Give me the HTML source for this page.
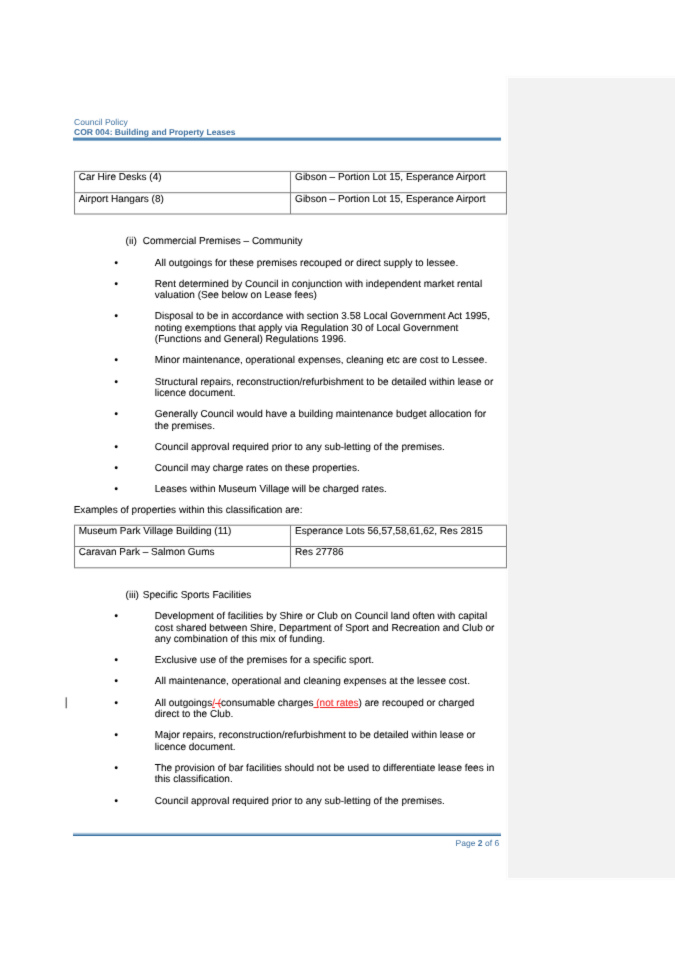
<!DOCTYPE html>
<html><head><meta charset="utf-8"><title>COR 004: Building and Property Leases</title>
<style>
html,body{margin:0;padding:0;background:#fff;}
body{width:675px;height:955px;position:relative;overflow:hidden;font-family:"Liberation Sans",Arial,sans-serif;color:#000;}
#pg{text-rendering:geometricPrecision;position:absolute;left:0;top:0;width:700px;height:955px;will-change:transform;filter:url(#soft);}
.l{position:absolute;white-space:nowrap;font-size:10.02px;line-height:12px;height:12px;-webkit-text-stroke:0.08px currentColor;}
.hd{position:absolute;white-space:nowrap;color:#3d6f9e;font-size:8.55px;line-height:10px;}
.del{color:#f01c1c;text-decoration:line-through;text-decoration-thickness:0.8px;}
.ins{color:#f01c1c;text-decoration:underline;text-decoration-thickness:0.8px;text-underline-offset:1px;}
svg{position:absolute;left:0;top:0;}
</style></head><body><svg width="0" height="0" style="position:absolute"><defs><filter id="soft" x="0" y="0" width="100%" height="100%" color-interpolation-filters="sRGB"><feConvolveMatrix order="3" kernelMatrix="0.015 0.07 0.015 0.07 0.66 0.07 0.015 0.07 0.015" divisor="1" edgeMode="duplicate" preserveAlpha="false"/></filter></defs></svg><div id="pg">

<svg width="700" height="955" viewBox="0 0 700 955">
<rect x="508" y="78" width="192" height="800" fill="#f2f2f2"/>
<rect x="506" y="76" width="194" height="1" fill="#fafafa"/>
<rect x="506" y="879" width="194" height="1" fill="#fafafa"/>
<rect x="506" y="76" width="1" height="804" fill="#fafafa"/>
<rect x="73" y="137" width="428" height="1" fill="#b3cbdf"/>
<rect x="73" y="138" width="428" height="2" fill="#4f86b3"/>
<rect x="73" y="140" width="428" height="1" fill="#8fb1cf"/>
<rect x="73" y="832.8" width="428" height="1.7" fill="#b0c9de"/>
<rect x="73" y="834.5" width="428" height="1.5" fill="#2f6a9c"/>
<rect x="65.7" y="697.3" width="1" height="11" fill="#333"/>
<line x1="74" y1="171.4" x2="507" y2="171.4" stroke="#787878" stroke-width="1"/>
<line x1="74" y1="192.7" x2="507" y2="192.7" stroke="#787878" stroke-width="1"/>
<line x1="74" y1="214.0" x2="507" y2="214.0" stroke="#787878" stroke-width="1"/>
<line x1="74.5" y1="171.4" x2="74.5" y2="214.0" stroke="#787878" stroke-width="1"/>
<line x1="290.5" y1="171.4" x2="290.5" y2="214.0" stroke="#787878" stroke-width="1"/>
<line x1="506.5" y1="171.4" x2="506.5" y2="214.0" stroke="#787878" stroke-width="1"/>
<circle cx="116.2" cy="262.7" r="1.45" fill="#000"/>
<circle cx="116.2" cy="283.7" r="1.45" fill="#000"/>
<circle cx="116.2" cy="315.7" r="1.45" fill="#000"/>
<circle cx="116.2" cy="359.7" r="1.45" fill="#000"/>
<circle cx="116.2" cy="381.7" r="1.45" fill="#000"/>
<circle cx="116.2" cy="413.7" r="1.45" fill="#000"/>
<circle cx="116.2" cy="446.7" r="1.45" fill="#000"/>
<circle cx="116.2" cy="467.7" r="1.45" fill="#000"/>
<circle cx="116.2" cy="488.7" r="1.45" fill="#000"/>
<line x1="74" y1="525.2" x2="507" y2="525.2" stroke="#787878" stroke-width="1"/>
<line x1="74" y1="546.5" x2="507" y2="546.5" stroke="#787878" stroke-width="1"/>
<line x1="74" y1="567.8" x2="507" y2="567.8" stroke="#787878" stroke-width="1"/>
<line x1="74.5" y1="525.2" x2="74.5" y2="567.8" stroke="#787878" stroke-width="1"/>
<line x1="290.5" y1="525.2" x2="290.5" y2="567.8" stroke="#787878" stroke-width="1"/>
<line x1="506.5" y1="525.2" x2="506.5" y2="567.8" stroke="#787878" stroke-width="1"/>
<circle cx="116.2" cy="615.7" r="1.45" fill="#000"/>
<circle cx="116.2" cy="659.7" r="1.45" fill="#000"/>
<circle cx="116.2" cy="680.7" r="1.45" fill="#000"/>
<circle cx="116.2" cy="702.7" r="1.45" fill="#000"/>
<circle cx="116.2" cy="734.7" r="1.45" fill="#000"/>
<circle cx="116.2" cy="767.7" r="1.45" fill="#000"/>
<circle cx="116.2" cy="800.7" r="1.45" fill="#000"/>
</svg>
<div class="hd" style="left:74px;top:117px;">Council Policy</div>
<div class="hd" style="left:74px;top:127px;font-weight:bold;">COR 004: Building and Property Leases</div>
<div class="l" style="left:78.7px;top:172.4px;">Car Hire Desks (4)</div>
<div class="l" style="left:295.1px;top:172.4px;">Gibson – Portion Lot 15, Esperance Airport</div>
<div class="l" style="left:78.7px;top:194.4px;">Airport Hangars (8)</div>
<div class="l" style="left:295.1px;top:194.4px;">Gibson – Portion Lot 15, Esperance Airport</div>
<div class="l" style="left:125.6px;top:236.4px;">(ii)</div>
<div class="l" style="left:142.8px;top:236.4px;">Commercial Premises – Community</div>
<div class="l" style="left:154.8px;top:258.4px;">All outgoings for these premises recouped or direct supply to lessee.</div>
<div class="l" style="left:154.8px;top:279.4px;">Rent determined by Council in conjunction with independent market rental</div>
<div class="l" style="left:154.8px;top:290.4px;">valuation (See below on Lease fees)</div>
<div class="l" style="left:154.8px;top:311.4px;">Disposal to be in accordance with section 3.58 Local Government Act 1995,</div>
<div class="l" style="left:154.8px;top:323.4px;">noting exemptions that apply via Regulation 30 of Local Government</div>
<div class="l" style="left:154.8px;top:334.4px;">(Functions and General) Regulations 1996.</div>
<div class="l" style="left:154.8px;top:355.4px;">Minor maintenance, operational expenses, cleaning etc are cost to Lessee.</div>
<div class="l" style="left:154.8px;top:377.4px;">Structural repairs, reconstruction/refurbishment to be detailed within lease or</div>
<div class="l" style="left:154.8px;top:388.4px;">licence document.</div>
<div class="l" style="left:154.8px;top:409.4px;">Generally Council would have a building maintenance budget allocation for</div>
<div class="l" style="left:154.8px;top:421.4px;">the premises.</div>
<div class="l" style="left:154.8px;top:442.4px;">Council approval required prior to any sub-letting of the premises.</div>
<div class="l" style="left:154.8px;top:463.4px;">Council may charge rates on these properties.</div>
<div class="l" style="left:154.8px;top:484.4px;">Leases within Museum Village will be charged rates.</div>
<div class="l" style="left:73.7px;top:505.4px;">Examples of properties within this classification are:</div>
<div class="l" style="left:78.7px;top:526.4px;">Museum Park Village Building (11)</div>
<div class="l" style="left:295.1px;top:526.4px;">Esperance Lots 56,57,58,61,62, Res 2815</div>
<div class="l" style="left:78.7px;top:547.4px;">Caravan Park – Salmon Gums</div>
<div class="l" style="left:295.1px;top:547.4px;">Res 27786</div>
<div class="l" style="left:125.6px;top:590.4px;">(iii)</div>
<div class="l" style="left:142.8px;top:590.4px;">Specific Sports Facilities</div>
<div class="l" style="left:154.8px;top:611.4px;">Development of facilities by Shire or Club on Council land often with capital</div>
<div class="l" style="left:154.8px;top:623.4px;">cost shared between Shire, Department of Sport and Recreation and Club or</div>
<div class="l" style="left:154.8px;top:634.4px;">any combination of this mix of funding.</div>
<div class="l" style="left:154.8px;top:655.4px;">Exclusive use of the premises for a specific sport.</div>
<div class="l" style="left:154.8px;top:676.4px;">All maintenance, operational and cleaning expenses at the lessee cost.</div>
<div class="l" style="left:154.8px;top:698.4px;">All outgoings<span class='ins'>/</span><span class='del'> (</span>consumable charges<span class='ins'> (not rates</span>) are recouped or charged</div>
<div class="l" style="left:154.8px;top:709.4px;">direct to the Club.</div>
<div class="l" style="left:154.8px;top:730.4px;">Major repairs, reconstruction/refurbishment to be detailed within lease or</div>
<div class="l" style="left:154.8px;top:742.4px;">licence document.</div>
<div class="l" style="left:154.8px;top:763.4px;">The provision of bar facilities should not be used to differentiate lease fees in</div>
<div class="l" style="left:154.8px;top:774.4px;">this classification.</div>
<div class="l" style="left:154.8px;top:796.4px;">Council approval required prior to any sub-letting of the premises.</div>
<div class="hd" style="left:455.5px;top:837.5px;">Page <b>2</b> of 6</div>
</div></body></html>
